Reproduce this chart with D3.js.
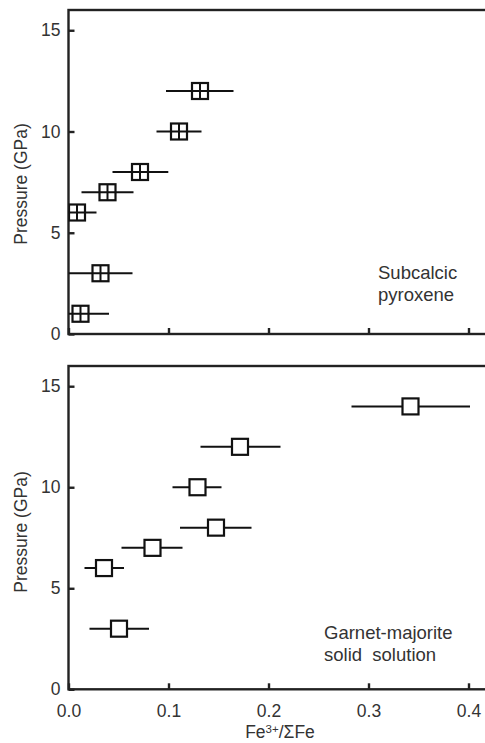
<!DOCTYPE html>
<html>
<head>
<meta charset="utf-8">
<script src="https://cdnjs.cloudflare.com/ajax/libs/d3/7.8.5/d3.min.js"></script>
<style>
  body { margin: 0; background: #fff; }
  svg { display: block; font-family: "Liberation Sans", Arial, Helvetica, sans-serif; }
</style>
</head>
<body>
<div id="chart"></div>
<script>
// subcalcic pyroxene: pressure (GPa), Fe3+/sumFe and error bar ends
var pyxP  = [1, 3, 6, 7, 8, 10, 12];
var pyxX  = [0.012, 0.032, 0.0085, 0.039, 0.0715, 0.1105, 0.1315];
var pyxLo = [0.0, 0.0, 0.0, 0.013, 0.044, 0.088, 0.0975];
var pyxHi = [0.0405, 0.064, 0.028, 0.065, 0.0998, 0.133, 0.165];

// garnet-majorite solid solution
var grtP  = [3, 6, 7, 8, 10, 12, 14];
var grtX  = [0.0505, 0.0355, 0.084, 0.1475, 0.129, 0.1715, 0.342];
var grtLo = [0.021, 0.016, 0.053, 0.1115, 0.104, 0.132, 0.283];
var grtHi = [0.0805, 0.0555, 0.114, 0.183, 0.153, 0.212, 0.4015];

var xTicks = [0.0, 0.1, 0.2, 0.3, 0.4];
var yTicks = [0, 5, 10, 15];

var width = 485
height = 743

var svg = d3.select("#chart")
    .append("svg")
    .attr("width", width)
    .attr("height", height);

// shared x scale, right border runs past the picture
var x = d3.scaleLinear().domain([0, 0.42]).range([68.5, 488.5]);

function panel(top, bottom, P, X, Lo, Hi, crossed, labels, showX, titleY) {
    var y = d3.scaleLinear().domain([0, 16]).range([bottom, top]);
    var g = svg.append("g");

    // clip marks to the frame
    var id = "clip" + Math.round(top);
    svg.append("clipPath").attr("id", id)
        .append("rect")
        .attr("x", x(0)).attr("y", top)
        .attr("width", x(0.42) - x(0)).attr("height", bottom - top);

    // frame
    g.append("rect")
        .attr("x", x(0)).attr("y", top)
        .attr("width", x(0.42) - x(0)).attr("height", bottom - top)
        .attr("fill", "none")
        .attr("stroke", "#222")
        .attr("stroke-width", 2.4);

    // y axis, inward ticks
    var yAxis = g.append("g")
        .attr("transform", "translate(" + x(0) + ",0)")
        .call(d3.axisLeft(y).tickValues(yTicks).tickSize(-6).tickPadding(14).tickFormat(d3.format("d")));
    yAxis.select(".domain").remove();
    yAxis.selectAll(".tick line").attr("stroke", "#222").attr("stroke-width", 2.4);
    yAxis.selectAll(".tick text")
        .style("font-size", "17.5px")
        .attr("fill", "#333")
        .attr("x", -8);

    // x axis, inward ticks
    var xAxis = g.append("g")
        .attr("transform", "translate(0," + bottom + ")")
        .call(d3.axisBottom(x).tickValues(xTicks).tickSize(-6).tickPadding(12).tickFormat(d3.format(".1f")));
    xAxis.select(".domain").remove();
    xAxis.selectAll(".tick line").attr("stroke", "#222").attr("stroke-width", 2.4);
    xAxis.selectAll(".tick text")
        .style("font-size", "17.5px")
        .attr("fill", "#333")
        .attr("y", 15)
        .attr("dy", "0.71em")
        .style("display", showX ? null : "none");

    // y title
    g.append("text")
        .attr("transform", "translate(26.5," + titleY + ") rotate(-90)")
        .attr("text-anchor", "middle")
        .style("font-size", "17.5px")
        .attr("fill", "#333")
        .text("Pressure (GPa)");

    var marks = g.append("g").attr("clip-path", "url(#" + id + ")");

    // error bars
    marks.selectAll(".err")
        .data(P)
        .enter()
        .append("line")
        .attr("x1", function (d, i) { return x(Lo[i]); })
        .attr("x2", function (d, i) { return x(Hi[i]); })
        .attr("y1", function (d) { return y(d); })
        .attr("y2", function (d) { return y(d); })
        .attr("stroke", "#111")
        .attr("stroke-width", 2);

    var s = 8;
    marks.selectAll(".sq")
        .data(P)
        .enter()
        .append("rect")
        .attr("x", function (d, i) { return x(X[i]) - s; })
        .attr("y", function (d) { return y(d) - s; })
        .attr("width", 2 * s)
        .attr("height", 2 * s)
        .attr("fill", "#fff")
        .attr("stroke", "#111")
        .attr("stroke-width", 2.2);

    if (crossed) {
        marks.selectAll(".cv")
            .data(P)
            .enter()
            .append("path")
            .attr("d", function (d, i) {
                var cx = x(X[i]), cy = y(d);
                return "M" + cx + "," + (cy - s) + "V" + (cy + s) + "M" + (cx - s) + "," + cy + "H" + (cx + s);
            })
            .attr("stroke", "#111")
            .attr("stroke-width", 2);
    }

    // annotation
    var t = g.append("text")
        .attr("x", labels.x)
        .attr("y", labels.y)
        .attr("fill", "#333")
        .style("font-size", "18.5px")
        .attr("xml:space", "preserve")
        .style("white-space", "pre");
    labels.lines.forEach(function (l, i) {
        t.append("tspan").attr("x", labels.x).attr("dy", i == 0 ? 0 : 22).text(l);
    });
}

panel(10, 334, pyxP, pyxX, pyxLo, pyxHi, true,
    { x: 378, y: 278.5, lines: ["Subcalcic", "pyroxene"] }, false, 184);
panel(366, 689.3, grtP, grtX, grtLo, grtHi, false,
    { x: 324, y: 638.5, lines: ["Garnet-majorite", "solid  solution"] }, true, 532);

// x title
var xt = svg.append("text")
    .attr("x", 280)
    .attr("y", 738)
    .attr("text-anchor", "middle")
    .attr("fill", "#333")
    .style("font-size", "17.5px");
xt.append("tspan").text("Fe");
xt.append("tspan").attr("dy", -5).style("font-size", "11.5px").text("3+");
xt.append("tspan").attr("dy", 5).text("/\u03a3Fe");
</script>
</body>
</html>
